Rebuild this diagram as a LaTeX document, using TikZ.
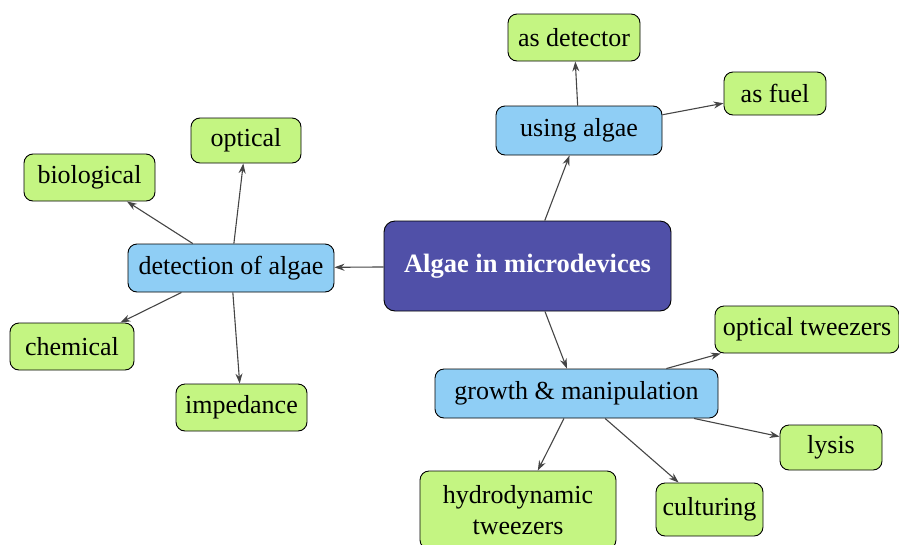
\documentclass[tikz,border=0pt]{standalone}
\usepackage{fontspec}
\setmainfont{Liberation Serif}
\usetikzlibrary{arrows.meta}
\definecolor{leafgreen}{HTML}{C4F582}
\definecolor{midblue}{HTML}{8FCEF5}
\definecolor{rootpurple}{HTML}{5050A8}
\definecolor{edgegray}{HTML}{454545}
\tikzset{
  x=1pt, y=-1pt,
  box/.style={draw=black, line width=0.9pt, rounded corners=9pt, inner sep=0pt,
    font=\fontsize{26}{31}\selectfont, align=center},
  leaf/.style={box, fill=leafgreen},
  mid/.style={box, fill=midblue},
  root/.style={box, fill=rootpurple, text=white, rounded corners=11pt,
    font=\fontsize{26.5}{31}\selectfont\bfseries},
  link/.style={draw=edgegray, line width=1.1pt, -{Stealth[length=10pt,width=7pt]}}
}
\begin{document}
\begin{tikzpicture}
\useasboundingbox (0,0) rectangle (899,544);
\clip (0,0) rectangle (899,544);
\node[root, minimum width=287pt, minimum height=90pt] (main) at (527.5,266) {Algae in microdevices};
\node[mid, minimum width=166pt, minimum height=49pt] (using) at (579,130.5) {using algae};
\node[leaf, minimum width=132pt, minimum height=47pt] (det) at (574,37.5) {as detector};
\node[leaf, minimum width=102pt, minimum height=43pt] (fuel) at (775,93.5) {as fuel};
\node[mid, minimum width=206pt, minimum height=48pt] (detect) at (231,268) {detection of algae};
\node[leaf, minimum width=110pt, minimum height=45pt] (optical) at (246,140.5) {optical};
\node[leaf, minimum width=131pt, minimum height=47pt] (bio) at (89.5,177.5) {biological};
\node[leaf, minimum width=124pt, minimum height=47pt] (chem) at (72,346.5) {chemical};
\node[leaf, minimum width=131pt, minimum height=47pt] (imp) at (241.5,407.5) {impedance};
\node[mid, minimum width=283pt, minimum height=49pt] (growth) at (576.5,393.5) {growth \& manipulation};
\node[leaf, minimum width=184pt, minimum height=47pt] (otw) at (807,329.5) {optical tweezers};
\node[leaf, minimum width=102pt, minimum height=45pt] (lysis) at (831,447.5) {lysis};
\node[leaf, minimum width=196pt, minimum height=78pt] (hydro) at (518,510) {hydrodynamic\\tweezers};
\node[leaf, minimum width=107pt, minimum height=53pt] (cult) at (709.5,509.5) {culturing};
\draw[link] (main) -- (using);
\draw[link] (main) -- (detect);
\draw[link] (main) -- (growth);
\draw[link] (using) -- (det);
\draw[link] (using) -- (fuel);
\draw[link] (detect) -- (optical);
\draw[link] (detect) -- (bio);
\draw[link] (detect) -- (chem);
\draw[link] (detect) -- (imp);
\draw[link] (growth) -- (otw);
\draw[link] (growth) -- (lysis);
\draw[link] (growth) -- (hydro);
\draw[link] (growth) -- (cult);
\end{tikzpicture}
\end{document}
